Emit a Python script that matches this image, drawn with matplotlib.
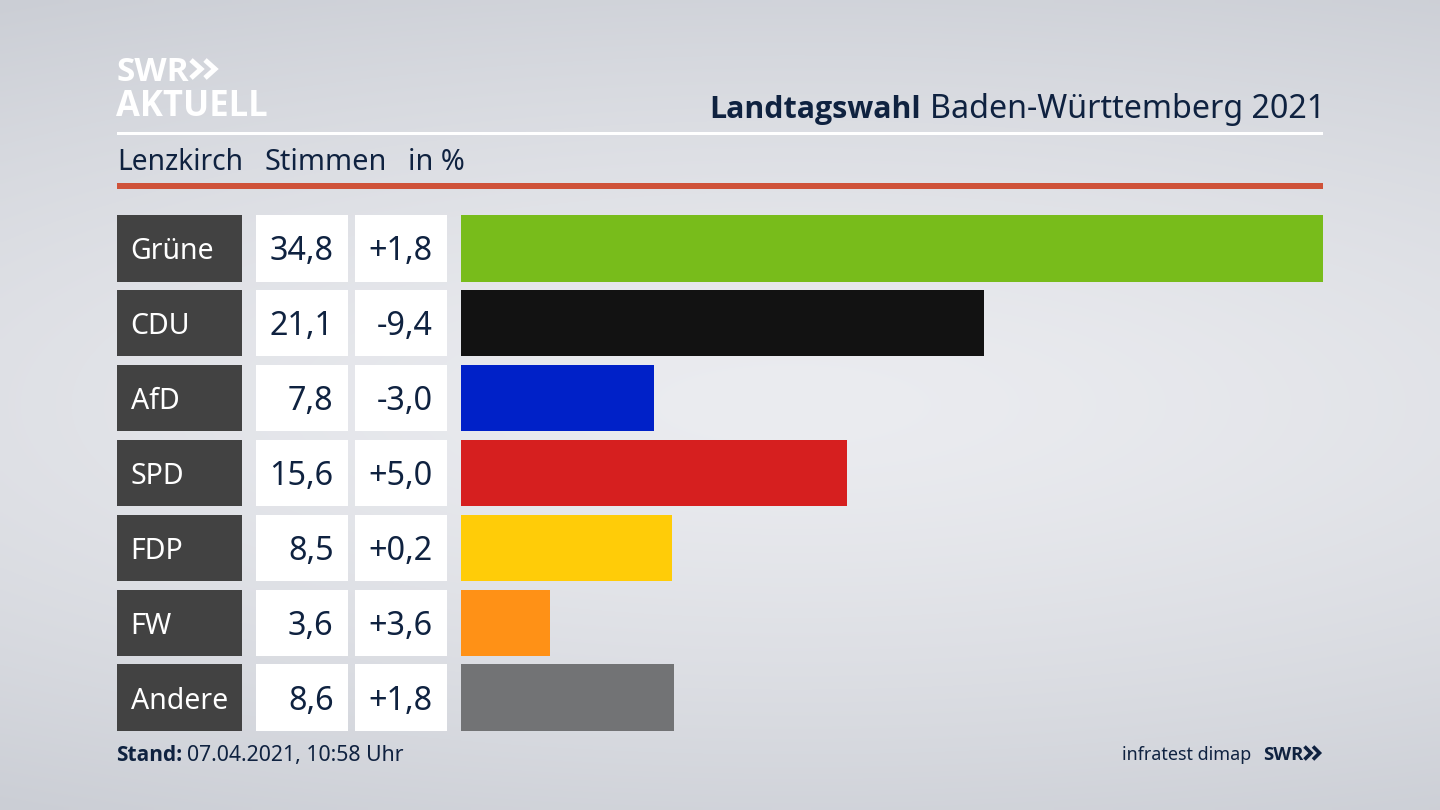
import numpy as np
import matplotlib
matplotlib.use("Agg")
import matplotlib.pyplot as plt
from matplotlib.patches import Rectangle

parties = ["Grüne", "CDU", "AfD", "SPD", "FDP", "FW", "Andere"]
shares = [34.8, 21.1, 7.8, 15.6, 8.5, 3.6, 8.6]
changes = ["+1,8", "-9,4", "-3,0", "+5,0", "+0,2", "+3,6", "+1,8"]
share_labels = ["34,8", "21,1", "7,8", "15,6", "8,5", "3,6", "8,6"]
colors = ["#78BC1B", "#121212", "#0021C8", "#D61F1F", "#FFCC08", "#FF9116", "#727375"]

NAVY = "#0F2240"
W, H = 1440, 810
FONT = "Noto Sans"
BOLD = "Open Sans"
plt.rcParams["font.family"] = [FONT, "DejaVu Sans"]

fig = plt.figure(figsize=(14.4, 8.1), dpi=100)


def axes_px(x0, y0, x1, y1, **kw):
    return fig.add_axes([x0 / W, 1 - y1 / H, (x1 - x0) / W, (y1 - y0) / H], **kw)


# Background: soft gradient, light around the middle
bg = fig.add_axes([0, 0, 1, 1], zorder=0)
yy, xx = np.mgrid[0:1:162j, 0:1:288j]
d = np.sqrt(((xx - 0.55) / 1.1) ** 2 + ((yy - 0.5) / 0.58) ** 2)
d = np.clip(d, 0, 1)
edge = np.array([0xCB, 0xCE, 0xD5])
mid = np.array([0xEB, 0xEC, 0xF0])
img = (mid[None, None, :] * (1 - d[..., None] ** 1.4) + edge[None, None, :] * d[..., None] ** 1.4) / 255
bg.imshow(img, aspect="auto", extent=(0, W, H, 0), interpolation="bilinear")
bg.set_xlim(0, W)
bg.set_ylim(H, 0)
bg.axis("off")

# Overlay in pixel coordinates for header and footer
ov = fig.add_axes([0, 0, 1, 1], zorder=3)
ov.set_xlim(0, W)
ov.set_ylim(H, 0)
ov.axis("off")
ov.patch.set_alpha(0)

ov.add_patch(Rectangle((117, 132), 1206, 3, color="white", lw=0))
ov.add_patch(Rectangle((117, 183), 1206, 6, color="#CF5239", lw=0))


def chevrons(x0, y0, w, h, gap, lw, color):
    for k in range(2):
        xs = x0 + k * (w + gap)
        ov.plot([xs, xs + w, xs], [y0, y0 + h / 2, y0 + h], color=color, lw=lw,
                solid_joinstyle="miter", solid_capstyle="butt")


ov.text(117, 81, "SWR", color="white", fontsize=24, fontweight="bold", va="baseline", ha="left", family=BOLD)
ov.text(116, 116, "AKTUELL", color="white", fontsize=24.9, fontweight="bold", va="baseline", ha="left", family=BOLD)
chevrons(191, 60, 10, 18, 4, 3.6, "white")

ov.text(921, 118, "Landtagswahl", color=NAVY, fontsize=21.9, fontweight="bold", va="baseline", ha="right", family=BOLD)
ov.text(930, 118, "Baden-Württemberg 2021", color=NAVY, fontsize=23.2, va="baseline", ha="left")

ov.text(117, 163, "Lenzkirch", color=NAVY, fontsize=20.3, va="center", ha="left")
ov.text(264, 163, "Stimmen", color=NAVY, fontsize=20.8, va="center", ha="left")
ov.text(408, 163, "in %", color=NAVY, fontsize=20.8, va="center", ha="left")

ov.text(116.5, 761, "Stand:", color=NAVY, fontsize=15, fontweight="bold", va="baseline", ha="left", family=BOLD)
ov.text(187, 761, "07.04.2021, 10:58 Uhr", color=NAVY, fontsize=15.3, va="baseline", ha="left")
ov.text(1251, 760, "infratest dimap", color=NAVY, fontsize=12.9, va="baseline", ha="right")
ov.text(1263, 760, "SWR", color=NAVY, fontsize=13.3, fontweight="bold", va="baseline", ha="left", family=BOLD)
chevrons(1304.5, 746.5, 6.5, 13, 2, 2.6, NAVY)

# Bars
rows = np.arange(len(parties))
ylim = (6.444, -0.444)
ax = axes_px(461, 215, 1323, 731, zorder=2)
ax.barh(rows, shares, height=0.888, color=colors)
ax.set_xlim(0, max(shares))
ax.set_ylim(*ylim)
ax.axis("off")

# Table cells
tb = axes_px(117, 215, 447, 731, zorder=2)
tb.set_xlim(117, 447)
tb.set_ylim(*ylim)
tb.axis("off")
tb.barh(rows, [124.5] * 7, left=117, height=0.888, color="#424242")
tb.barh(rows, [92.5] * 7, left=255.5, height=0.888, color="white")
tb.barh(rows, [92.5] * 7, left=354.5, height=0.888, color="white")
offset = 0.045
for i in rows:
    tb.text(131 - (1 if parties[i] in ("Grüne", "CDU", "FDP", "FW") else 0), i + offset, parties[i], color="white",
            fontsize=20.5, va="center", ha="left")
    tb.text(333.5, i + offset, share_labels[i], color=NAVY, fontsize=23.3, va="center", ha="right")
    tb.text(433, i + offset, changes[i], color=NAVY, fontsize=23.3, va="center", ha="right")

fig.savefig("out.png", dpi=100)
